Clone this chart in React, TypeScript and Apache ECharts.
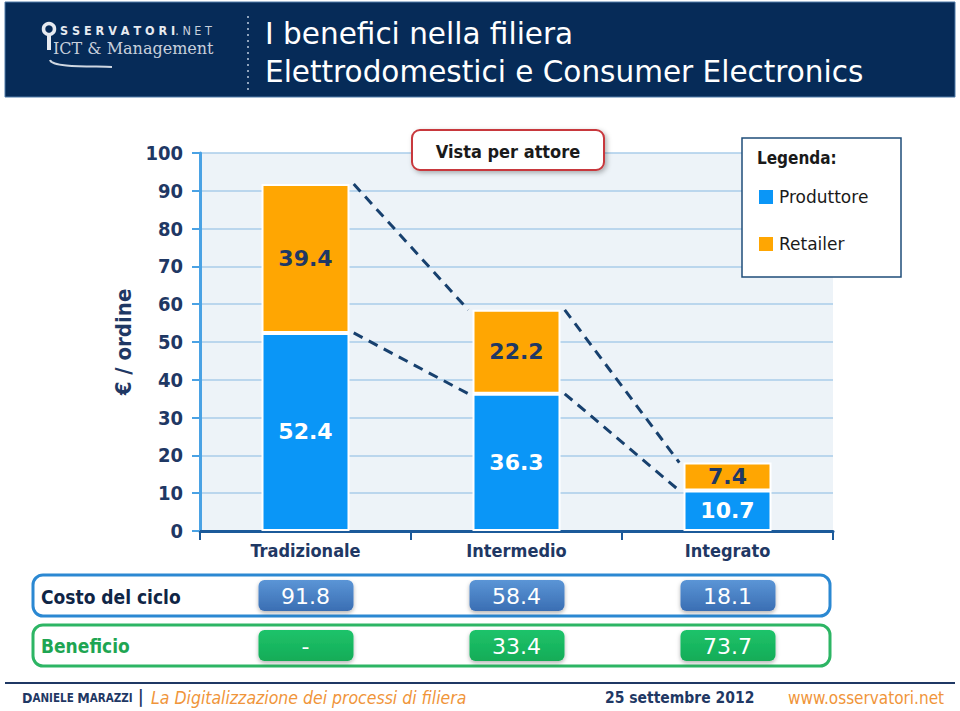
import React, { useEffect, useRef } from "react";
import * as echarts from "echarts";

const categories = ["Tradizionale", "Intermedio", "Integrato"];
const produttore = [52.4, 36.3, 10.7];
const retailer = [39.4, 22.2, 7.4];
const yTicks = { min: 0, max: 100, interval: 10 };
const costoCiclo = ["91.8", "58.4", "18.1"];
const beneficio = ["-", "33.4", "73.7"];

const NAVY = "#1F3864";
const BLUE = "#0A96F7";
const ORANGE = "#FFA602";
const FONT = "'DejaVu Sans Condensed', 'DejaVu Sans', sans-serif";
const WIDE = "'DejaVu Sans', sans-serif";

export default function App() {
  const ref = useRef<HTMLDivElement>(null);
  useEffect(() => {
    document.body.style.margin = "0";
    const chart = echarts.init(ref.current!, null, { renderer: "svg" });
    const gridLeft = 200;
    const gridTop = 153;
    const gridW = 633;
    const gridH = 378;
    const catW = gridW / categories.length;
    const barW = 88;
    const half = barW / 2 / catW;
    const totals = produttore.map((v, i) => +(v + retailer[i]).toFixed(1));

    const dashSeries: any[] = [];
    for (let i = 0; i < categories.length - 1; i++) {
      const xa = i + 0.5 + half + 0.02;
      const xb = i + 1.5 - half - 0.02;
      [
        [totals[i], totals[i + 1]],
        [produttore[i], produttore[i + 1]],
      ].forEach(([ya, yb]) =>
        dashSeries.push({
          type: "line",
          xAxisIndex: 1,
          yAxisIndex: 0,
          symbol: "none",
          silent: true,
          lineStyle: { color: "#17406E", width: 3, type: [10, 7] },
          data: [[xa, ya], [xb, yb]],
          z: 5,
        })
      );
    }

    const option: any = {
      animation: false,
      textStyle: { fontFamily: FONT },
      grid: {
        left: gridLeft,
        top: gridTop,
        width: gridW,
        height: gridH,
        show: true,
        backgroundColor: "#EDF3F8",
        borderWidth: 0,
      },
      legend: {
        orient: "vertical",
        left: 757,
        top: 188,
        padding: 0,
        itemWidth: 16,
        itemHeight: 16,
        itemGap: 29,
        icon: "rect",
        selectedMode: false,
        textStyle: { fontFamily: WIDE, fontSize: 17, color: "#1A1A1A" },
        data: ["Produttore", "Retailer"],
      },
      xAxis: [
        {
          type: "category",
          data: categories,
          axisLine: { lineStyle: { color: "#1B5A9A", width: 3 } },
          axisTick: { show: true, length: 9, lineStyle: { color: "#1B5A9A", width: 2 } },
          axisLabel: { color: NAVY, fontSize: 18, fontWeight: "bold", fontFamily: FONT, margin: 10 },
        },
        { type: "value", min: 0, max: categories.length, show: false },
      ],
      yAxis: {
        type: "value",
        min: yTicks.min,
        max: yTicks.max,
        interval: yTicks.interval,
        name: "€ / ordine",
        nameLocation: "middle",
        nameGap: 46,
        nameTextStyle: { color: NAVY, fontSize: 22, fontWeight: "bold", fontFamily: FONT },
        axisLine: { show: true, lineStyle: { color: "#4AA2E4", width: 3 } },
        axisTick: { show: true, length: 8, lineStyle: { color: "#4AA2E4", width: 2 } },
        axisLabel: { color: NAVY, fontSize: 20, fontWeight: "bold", fontFamily: FONT, margin: 17 },
        splitLine: { lineStyle: { color: "#A9CDEA", width: 1.5 } },
      },
      series: [
        {
          name: "Produttore",
          type: "bar",
          stack: "tot",
          barWidth: barW,
          data: produttore,
          itemStyle: { color: BLUE, borderColor: "#FFFFFF", borderWidth: 2 },
          label: {
            show: true,
            position: "inside",
            color: "#FFFFFF",
            fontSize: 22,
            fontWeight: "bold",
            fontFamily: WIDE,
            formatter: (p: any) => p.value.toFixed(1),
          },
        },
        {
          name: "Retailer",
          type: "bar",
          stack: "tot",
          barWidth: barW,
          data: retailer,
          itemStyle: { color: ORANGE, borderColor: "#FFFFFF", borderWidth: 2 },
          label: {
            show: true,
            position: "inside",
            color: NAVY,
            fontSize: 22,
            fontWeight: "bold",
            fontFamily: WIDE,
            formatter: (p: any) => p.value.toFixed(1),
          },
        },
        ...dashSeries,
      ],
    };
    chart.setOption(option);

    const centers = categories.map((c) => chart.convertToPixel({ xAxisIndex: 0 }, c) as number);

    const pill = (cx: number, y: number, txt: string, c1: string, c2: string) => ({
      type: "group",
      children: [
        {
          type: "rect",
          shape: { x: cx - 47, y, width: 95, height: 31, r: 6 },
          style: {
            fill: new echarts.graphic.LinearGradient(0, 0, 0, 1, [
              { offset: 0, color: c1 },
              { offset: 1, color: c2 },
            ]),
            shadowBlur: 4,
            shadowOffsetY: 2,
            shadowColor: "rgba(0,0,0,0.3)",
          },
        },
        {
          type: "text",
          x: cx,
          y: y + 16,
          style: {
            text: txt,
            fill: "#FFFFFF",
            fontSize: 22,
            fontFamily: WIDE,
            align: "center",
            verticalAlign: "middle",
          },
        },
      ],
    });

    const graphic: any[] = [
      // header
      {
        type: "rect",
        shape: { x: 5, y: 2, width: 950, height: 95 },
        style: { fill: "#062B58", stroke: "#4F7BA8", lineWidth: 1 },
        z: 0,
      },
      {
        type: "circle",
        shape: { cx: 49, cy: 29, r: 5.5 },
        style: { fill: "none", stroke: "#E6EAF0", lineWidth: 3.5 },
      },
      {
        type: "line",
        shape: { x1: 49, y1: 35, x2: 49, y2: 50 },
        style: { stroke: "#E6EAF0", lineWidth: 4 },
      },
      {
        type: "text",
        x: 60,
        y: 30,
        style: {
          text: "{a|S S E R V A T O R I}{b|. N E T}",
          rich: {
            a: { fontSize: 12.5, fontWeight: "bold", fill: "#E6EAF0", fontFamily: FONT },
            b: { fontSize: 12.5, fill: "#C8D0DC", fontFamily: FONT },
          },
          verticalAlign: "middle",
        },
      },
      {
        type: "text",
        x: 53,
        y: 48,
        style: {
          text: "ICT & Management",
          fontSize: 16,
          fontFamily: "'DejaVu Serif', 'Liberation Serif', serif",
          fill: "#C8D0DC",
          verticalAlign: "middle",
        },
      },
      {
        type: "bezierCurve",
        shape: { x1: 50, y1: 60, x2: 112, y2: 67, cpx1: 52, cpy1: 68, cpx2: 95, cpy2: 66 },
        style: { stroke: "#D0D8E2", lineWidth: 2, fill: "none" },
      },
      {
        type: "line",
        shape: { x1: 248, y1: 16, x2: 248, y2: 92 },
        style: { stroke: "#8FA3BC", lineWidth: 2, lineDash: [2, 4] },
      },
      {
        type: "text",
        x: 265,
        y: 34,
        style: { text: "I benefici nella filiera", fontSize: 29.5, fill: "#FFFFFF", fontFamily: WIDE, verticalAlign: "middle" },
      },
      {
        type: "text",
        x: 265,
        y: 72,
        style: {
          text: "Elettrodomestici e Consumer Electronics",
          fontSize: 29.5,
          fill: "#FFFFFF",
          fontFamily: WIDE,
          verticalAlign: "middle",
        },
      },
      // Vista per attore
      {
        type: "rect",
        shape: { x: 412, y: 130, width: 192, height: 40, r: 8 },
        style: {
          fill: "#FFFFFF",
          stroke: "#C8383C",
          lineWidth: 2,
          shadowBlur: 5,
          shadowOffsetX: 2,
          shadowOffsetY: 2,
          shadowColor: "rgba(0,0,0,0.3)",
        },
        z: 10,
      },
      {
        type: "text",
        x: 508,
        y: 151,
        z: 11,
        style: {
          text: "Vista per attore",
          fontSize: 18,
          fontWeight: "bold",
          fill: "#1A1A1A",
          fontFamily: FONT,
          align: "center",
          verticalAlign: "middle",
        },
      },
      // legend box
      {
        type: "rect",
        shape: { x: 742, y: 138, width: 159, height: 139 },
        style: { fill: "#FFFFFF", stroke: "#1F4E79", lineWidth: 1.5 },
        z: 1,
      },
      {
        type: "text",
        x: 757,
        y: 158,
        z: 11,
        style: { text: "Legenda:", fontSize: 17, fontWeight: "bold", fill: "#1A1A1A", fontFamily: FONT, verticalAlign: "middle" },
      },
      // rows
      {
        type: "rect",
        shape: { x: 33, y: 575, width: 797, height: 41, r: 10 },
        style: { fill: "#FFFFFF", stroke: "#2B88D2", lineWidth: 3 },
      },
      {
        type: "text",
        x: 41,
        y: 597,
        style: { text: "Costo del ciclo", fontSize: 19, fontWeight: "bold", fill: "#0F2546", fontFamily: FONT, verticalAlign: "middle" },
      },
      {
        type: "rect",
        shape: { x: 33, y: 625, width: 797, height: 41, r: 10 },
        style: { fill: "#FFFFFF", stroke: "#2DB564", lineWidth: 3 },
      },
      {
        type: "text",
        x: 41,
        y: 646,
        style: { text: "Beneficio", fontSize: 19, fontWeight: "bold", fill: "#1EA552", fontFamily: FONT, verticalAlign: "middle" },
      },
      ...costoCiclo.map((t, i) => pill(centers[i], 580, t, "#5B95D6", "#3A6EB3")),
      ...beneficio.map((t, i) => pill(centers[i], 630, t, "#1FC36A", "#12AC57")),
      // footer
      {
        type: "line",
        shape: { x1: 5, y1: 683, x2: 955, y2: 683 },
        style: { stroke: NAVY, lineWidth: 2 },
      },
      {
        type: "text",
        x: 22,
        y: 698,
        style: {
          text: "{b|D}{s|ANIELE }{b|M}{s|ARAZZI}",
          rich: {
            b: { fontSize: 14, fontWeight: "bold", fill: NAVY, fontFamily: FONT },
            s: { fontSize: 11.5, fontWeight: "bold", fill: NAVY, fontFamily: FONT },
          },
          verticalAlign: "middle",
        },
      },
      {
        type: "text",
        x: 138,
        y: 697,
        style: { text: "|", fontSize: 17, fontWeight: "bold", fill: NAVY, fontFamily: FONT, verticalAlign: "middle" },
      },
      {
        type: "text",
        x: 151,
        y: 698,
        style: {
          text: "La Digitalizzazione dei processi di filiera",
          fontSize: 17.5,
          fontStyle: "italic",
          fill: "#F0953A",
          fontFamily: FONT,
          verticalAlign: "middle",
        },
      },
      {
        type: "text",
        x: 605,
        y: 698,
        style: { text: "25 settembre 2012", fontSize: 15.5, fontWeight: "bold", fill: NAVY, fontFamily: FONT, verticalAlign: "middle" },
      },
      {
        type: "text",
        x: 788,
        y: 698,
        style: { text: "www.osservatori.net", fontSize: 17, fill: "#F0953A", fontFamily: FONT, verticalAlign: "middle" },
      },
    ];
    chart.setOption({ graphic });
    return () => chart.dispose();
  }, []);
  return <div ref={ref} style={{ position: "absolute", left: 0, top: 0, width: 960, height: 711 }} />;
}
